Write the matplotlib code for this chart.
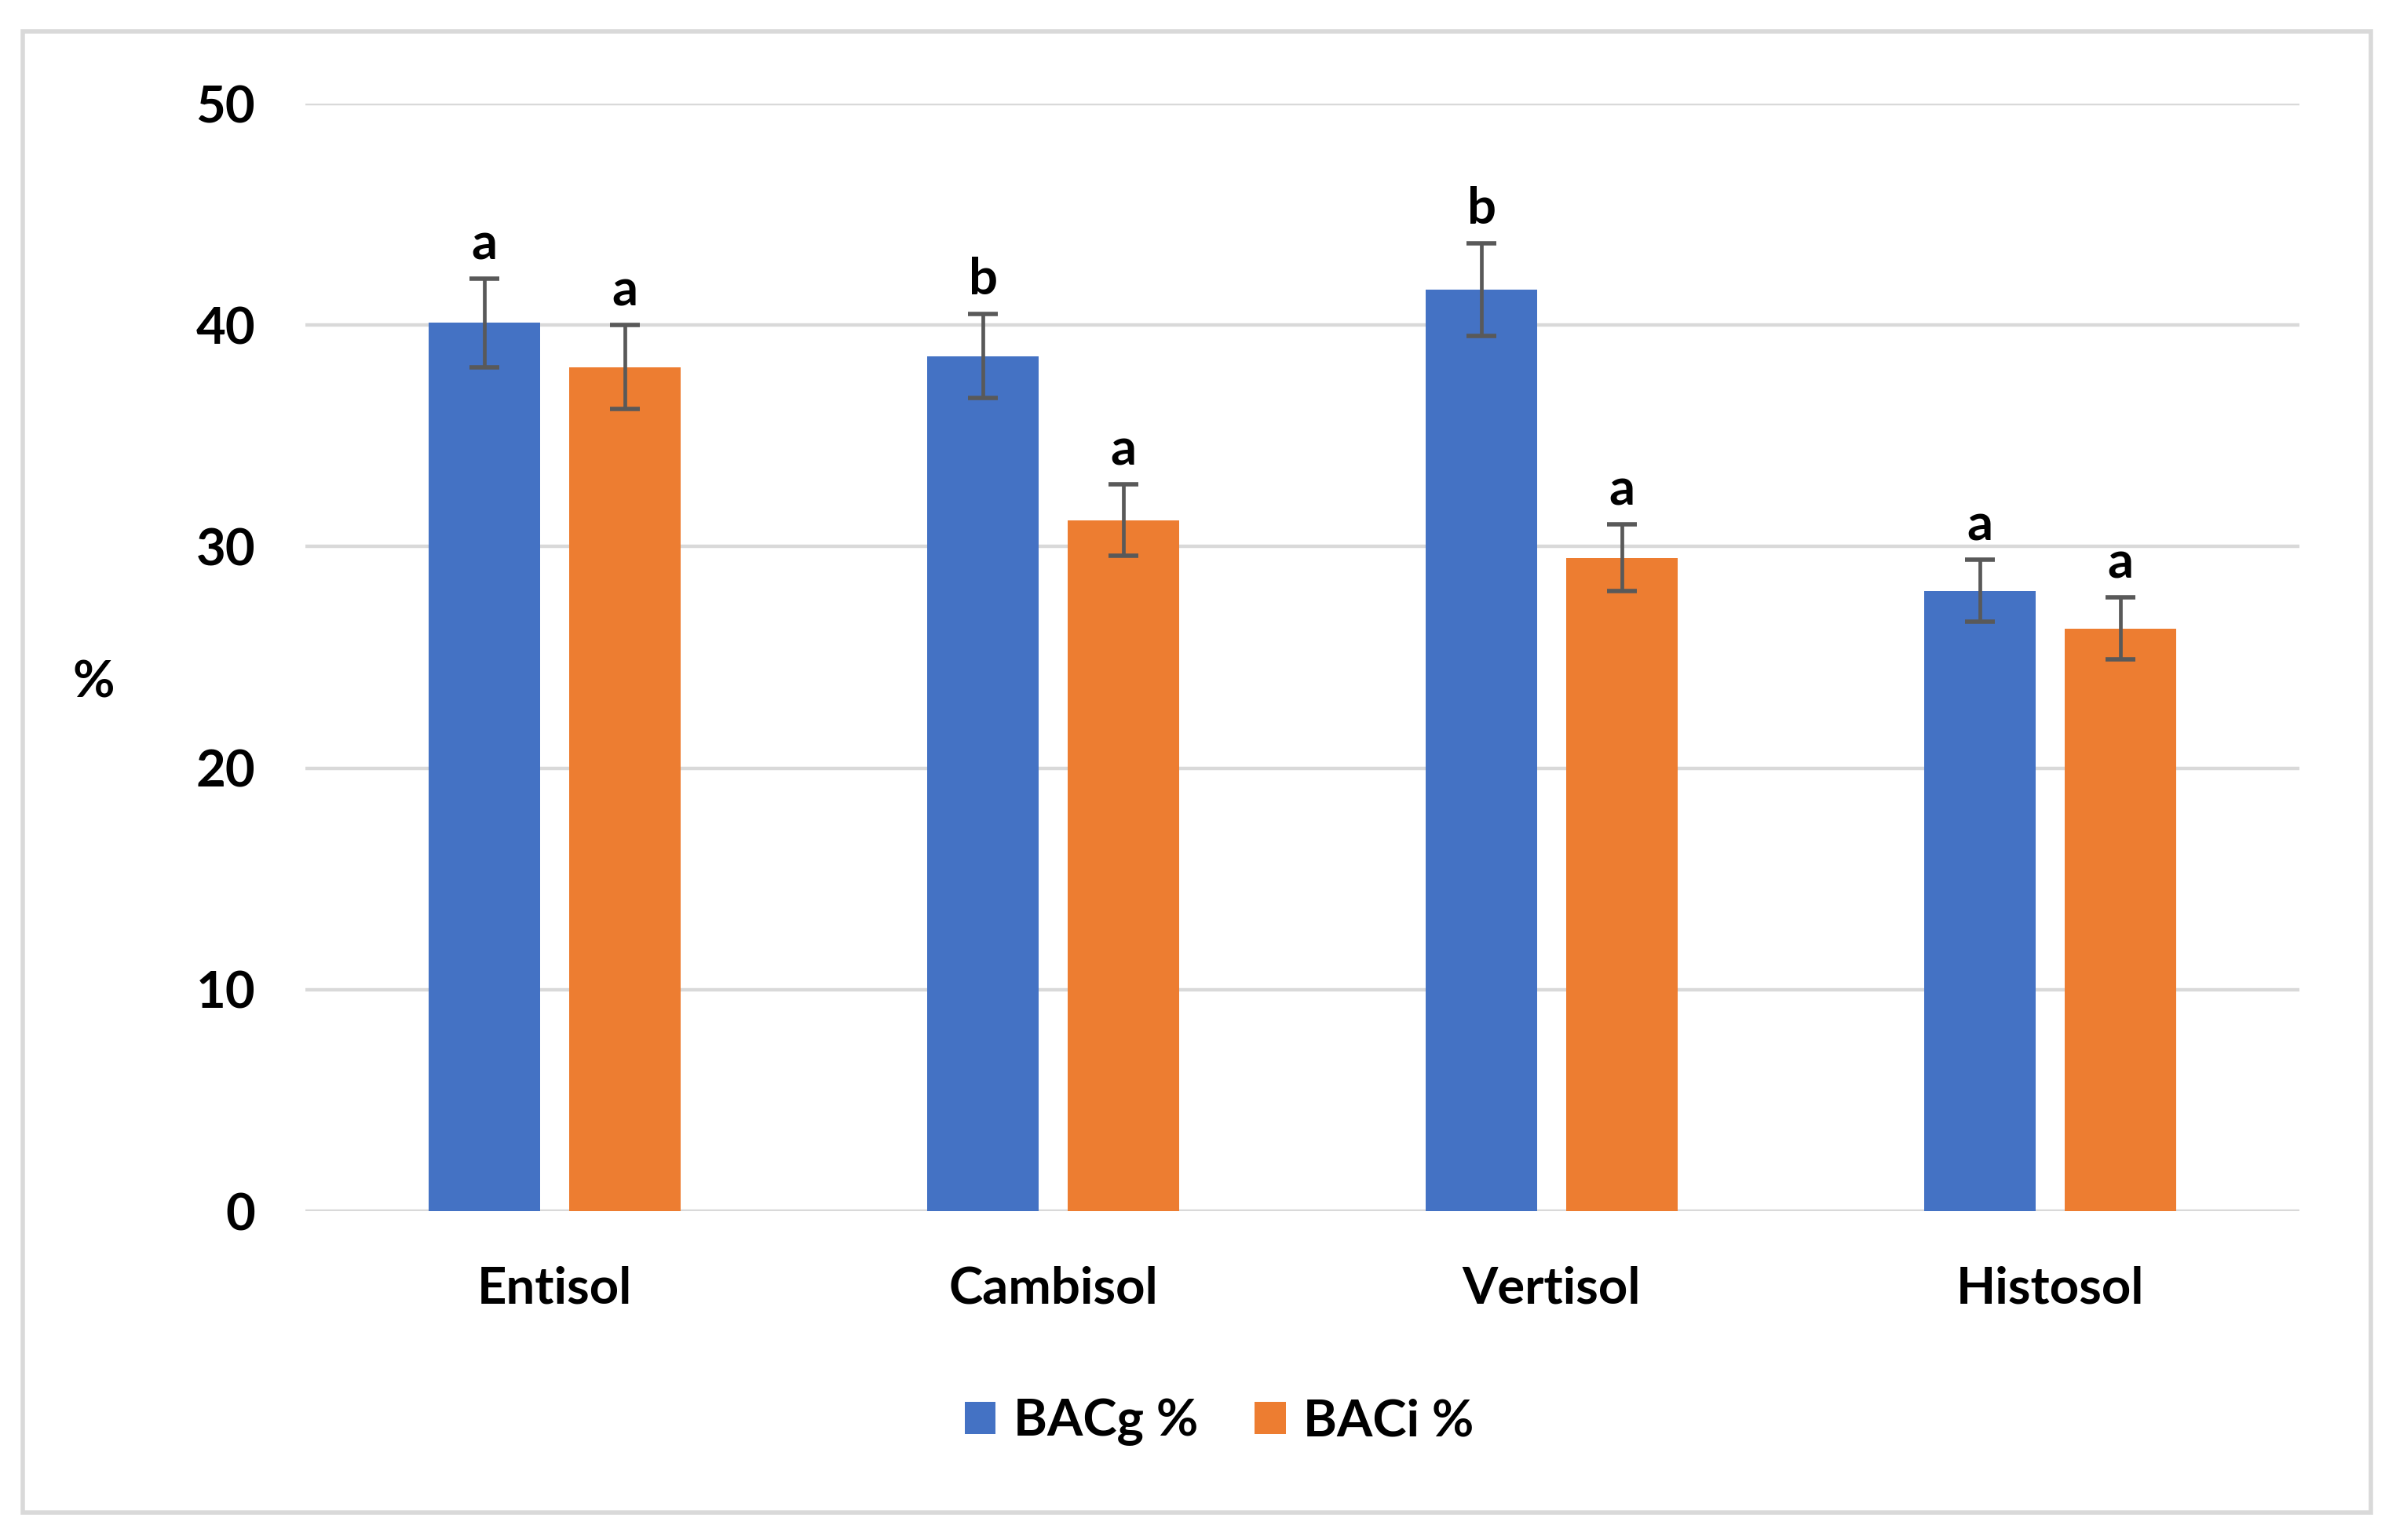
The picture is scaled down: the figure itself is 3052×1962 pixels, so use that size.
import matplotlib
matplotlib.use("Agg")
import matplotlib.pyplot as plt
from matplotlib.patches import Patch, Rectangle
import numpy as np

categories = ["Entisol", "Cambisol", "Vertisol", "Histosol"]
bacg = [40.1, 38.6, 41.6, 28.0]
baci = [38.1, 31.2, 29.5, 26.3]
bacg_err = [2.0, 1.9, 2.1, 1.4]
baci_err = [1.9, 1.6, 1.5, 1.4]
bacg_letters = ["a", "b", "b", "a"]
baci_letters = ["a", "a", "a", "a"]
series_names = ["BACg %", "BACi %"]
yticks = [0, 10, 20, 30, 40, 50]

plt.rcParams['font.family'] = ['Lato', 'DejaVu Sans']
plt.rcParams['font.weight'] = 'bold'

BLUE = "#4472C4"
ORANGE = "#ED7D31"
GRID = "#D9D9D9"
ERR = "#595959"
FS = 23.5

fig = plt.figure(figsize=(15.26, 9.81), dpi=200)
ax = fig.add_axes([0.1275, 0.2135, 0.9597 - 0.1275, 0.9327 - 0.2135])

x = np.arange(len(categories))
w = 0.224
off = 0.141
ax.bar(x - off, bacg, width=w, color=BLUE, zorder=3)
ax.bar(x + off, baci, width=w, color=ORANGE, zorder=3)
ax.errorbar(x - off, bacg, yerr=bacg_err, fmt='none', ecolor=ERR, elinewidth=1.7,
            capsize=7, capthick=2.0, zorder=4)
ax.errorbar(x + off, baci, yerr=baci_err, fmt='none', ecolor=ERR, elinewidth=1.7,
            capsize=7, capthick=2.0, zorder=4)

for xi, v, e, t in zip(x - off, bacg, bacg_err, bacg_letters):
    ax.annotate(t, (xi, v + e), xytext=(0, 5), textcoords='offset points',
                ha='center', va='bottom', fontsize=FS, fontweight='bold')
for xi, v, e, t in zip(x + off, baci, baci_err, baci_letters):
    ax.annotate(t, (xi, v + e), xytext=(0, 5), textcoords='offset points',
                ha='center', va='bottom', fontsize=FS, fontweight='bold')

ax.set_xlim(-0.5, len(categories) - 0.5)
ax.set_ylim(0, 50)
ax.set_yticks(yticks)
ax.set_yticklabels([str(t) for t in yticks], fontsize=FS, fontweight='bold')
ax.set_xticks(x)
ax.set_xticklabels(categories, fontsize=FS, fontweight='bold')
ax.tick_params(axis='y', length=0, pad=23)
ax.tick_params(axis='x', length=0, pad=25)
ax.yaxis.grid(True, color=GRID, linewidth=1.6, zorder=0)
ax.set_axisbelow(True)
for s in ax.spines.values():
    s.set_visible(False)

fig.text(0.039, 1 - 870 / 1962, "%", fontsize=FS, fontweight='bold', ha='center', va='center')

handles = [Patch(facecolor=BLUE, edgecolor='none'), Patch(facecolor=ORANGE, edgecolor='none')]
fig.legend(handles, series_names, loc='center', bbox_to_anchor=(0.509, 1 - 1812 / 1962),
           ncol=2, frameon=False, prop={'size': FS, 'weight': 'bold'},
           handlelength=0.6, handleheight=0.6, handletextpad=0.35, columnspacing=1.1)

fig.patches.append(Rectangle((29 / 3052, 1 - 1927 / 1962), (3020 - 29) / 3052, (1927 - 40) / 1962,
                             transform=fig.transFigure, fill=False, edgecolor=GRID, linewidth=2.0))

fig.savefig("out.png", dpi=200, facecolor='white')
